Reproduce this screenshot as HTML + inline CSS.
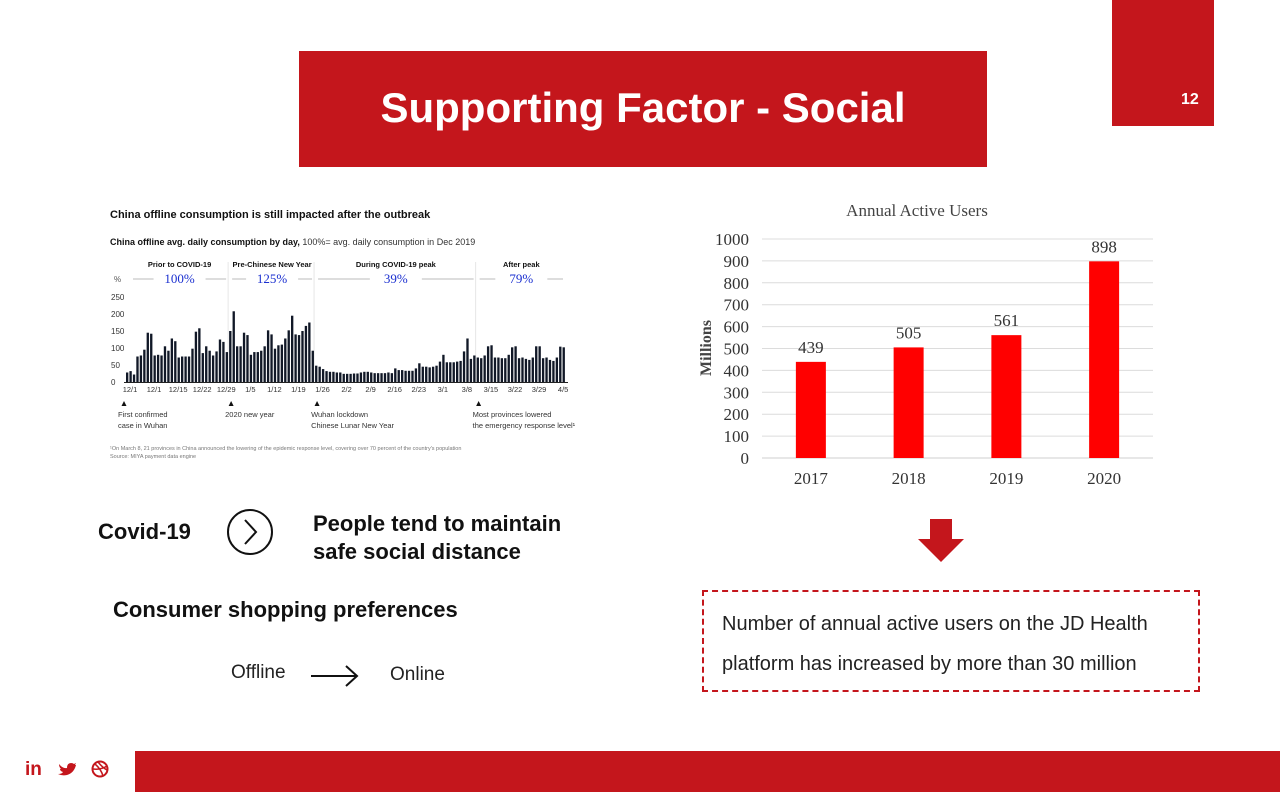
<!DOCTYPE html>
<html><head><meta charset="utf-8">
<style>
body{margin:0;width:1280px;height:792px;position:relative;background:#fff;font-family:"Liberation Sans",sans-serif;overflow:hidden}
.abs{position:absolute;white-space:nowrap}
.b{font-weight:bold;color:#111}
</style></head><body>
<div class="abs" style="left:299px;top:51px;width:688px;height:116px;background:#c4161c"></div>
<div class="abs" style="left:299px;top:84px;width:688px;text-align:center;color:#fff;font-weight:bold;font-size:42px;">Supporting Factor - Social</div>
<div class="abs" style="left:1112px;top:0;width:102px;height:126px;background:#c4161c"></div>
<div class="abs" style="left:1181px;top:91px;color:#fff;font-weight:bold;font-size:16px">12</div>
<div class="abs" style="left:135px;top:751px;width:1145px;height:41px;background:#c4161c"></div>
<div class="abs" style="left:25px;top:759px;color:#c4161c;font-weight:bold;font-size:19px">in</div>
<svg class="abs" style="left:58px;top:761px" width="18" height="16" viewBox="0 0 18 16"><path d="M1 3 Q5 8 9 7 Q9 2 13 2 Q15 2 16 3 L18 2 L17 4 L18 4 Q16 12 9 14 Q4 15 0 13 Q4 13 5 11 Q2 10 2 8 Q3 8 3 8 Q1 6 1 3Z" fill="#c4161c"/></svg>
<svg class="abs" style="left:91px;top:760px" width="18" height="18"><circle cx="9" cy="9" r="7.5" fill="none" stroke="#c4161c" stroke-width="2"/><path d="M4 4 Q10 9 12 16 M2 9 Q10 10 16 6 M7 2 Q12 8 16 10" fill="none" stroke="#c4161c" stroke-width="1.5"/></svg>

<div class="abs b" style="left:98px;top:519px;font-size:22px">Covid-19</div>
<svg class="abs" style="left:226px;top:508px" width="48" height="48"><circle cx="24" cy="24" r="22" fill="none" stroke="#111" stroke-width="2"/><path d="M19 12 L30 24 L19 36" fill="none" stroke="#111" stroke-width="2"/></svg>
<div class="abs b" style="left:313px;top:510px;font-size:22px;line-height:28px">People tend to maintain<br>safe social distance</div>
<div class="abs b" style="left:113px;top:597px;font-size:22px">Consumer shopping preferences</div>
<div class="abs" style="left:231px;top:662px;font-size:19px;color:#222">Offline</div>
<svg class="abs" style="left:310px;top:664px" width="50" height="24"><path d="M1 12 H46 M36 2 L47 12 L36 22" fill="none" stroke="#111" stroke-width="2"/></svg>
<div class="abs" style="left:390px;top:664px;font-size:19px;color:#222">Online</div>

<svg class="abs" style="left:916px;top:519px" width="50" height="44"><path d="M14 0 H36 V20 H48 L25 43 L2 20 H14Z" fill="#c4161c"/></svg>
<div class="abs" style="left:702px;top:590px;width:494px;height:98px;border:2px dashed #c4161c"></div>
<div class="abs" style="left:722px;top:604px;font-size:20px;line-height:40px;color:#222">Number of annual active users on the JD Health<br>platform has increased by more than 30 million</div>

<svg id="left" class="abs" style="left:0;top:0" width="640" height="470"></svg>
<svg id="right" class="abs" style="left:640px;top:0" width="640" height="500"></svg>

<script>
const dailyValues=[28,32,22,75,78,95,145,142,78,80,78,105,92,128,120,72,75,75,75,98,148,158,85,105,92,78,90,125,118,88,
150,208,105,105,145,138,80,88,88,92,105,152,140,98,108,110,128,152,195,140,138,150,165,175,92,
48,45,38,32,30,30,28,28,24,24,24,25,25,28,30,30,28,26,26,26,26,28,26,40,35,35,33,33,33,40,55,45,45,43,45,48,60,80,58,58,58,60,62,90,128,68,78,
72,70,78,105,108,72,72,70,70,80,102,105,70,72,68,65,72,105,105,70,72,65,62,72,104,102];
const dateLabels=["12/1","12/1","12/15","12/22","12/29","1/5","1/12","1/19","1/26","2/2","2/9","2/16","2/23","3/1","3/8","3/15","3/22","3/29","4/5"];
const yTicksL=[0,50,100,150,200,250];
const periods=["Prior to COVID-19","Pre-Chinese New Year","During COVID-19 peak","After peak"];
const periodPct=["100%","125%","39%","79%"];

const years=["2017","2018","2019","2020"];
const users=[439,505,561,898];
const yTicksR=[0,100,200,300,400,500,600,700,800,900,1000];

const NS="http://www.w3.org/2000/svg";
function mk(svg,tag,attrs,text){const e=document.createElementNS(NS,tag);for(const k in attrs)e.setAttribute(k,attrs[k]);if(text!==undefined)e.textContent=text;svg.appendChild(e);return e;}

// left chart
const L=document.getElementById('left');
const x0=126,step=440/dailyValues.length;
const xL=i=>x0+i*step, yL=v=>382-v*0.34;
let t;
t=mk(L,'text',{x:110,y:218,'font-size':11,'font-weight':'bold',fill:'#111'},'China offline consumption is still impacted after the outbreak');

t=mk(L,'text',{x:110,y:245,'font-size':9,fill:'#333'});

t.innerHTML='<tspan font-weight="bold" fill="#111">China offline avg. daily consumption by day,</tspan> 100%= avg. daily consumption in Dec 2019';
const bounds=[0,30,55,102,128];
mk(L,'text',{x:114,y:282,'font-size':8,fill:'#555'},'%');
for(let p=0;p<4;p++){
  const a=xL(bounds[p])+(p?0:4),b=xL(bounds[p+1]);
  const c=(a+b)/2;
  t=mk(L,'text',{x:c,y:267,'font-size':7.5,'font-weight':'bold','text-anchor':'middle',fill:'#111'},periods[p]);
  
  const ln=mk(L,'line',{x1:a+3,x2:b-3,y1:279,y2:279,stroke:'#bbb','stroke-width':1});
  
  mk(L,'rect',{x:c-26,y:270,width:52,height:14,fill:'#fff'});
  t=mk(L,'text',{x:c,y:283,'font-size':13,'font-family':'Liberation Serif,serif','text-anchor':'middle',fill:'#1a2fd0'},periodPct[p]);
  
  if(p>0){const v=mk(L,'line',{x1:xL(bounds[p])-1,x2:xL(bounds[p])-1,y1:262,y2:382,stroke:'#e6e6e6'});}
}
yTicksL.forEach(v=>{t=mk(L,'text',{x:111,y:yL(v)+3,'font-size':8,fill:'#333'},v);});
dailyValues.forEach((v,i)=>{const r=mk(L,'rect',{x:xL(i),y:yL(v),width:step*0.68,height:v*0.34,fill:'#111827'});
});
mk(L,'line',{x1:124,x2:568,y1:382.5,y2:382.5,stroke:'#222','stroke-width':1});
dateLabels.forEach((d,k)=>{t=mk(L,'text',{x:xL(k*7)+4,y:392,'font-size':7.5,'text-anchor':'middle',fill:'#333'},d);});
const notes=[[0,"First confirmed","case in Wuhan"],[30,"2020 new year",""],[55,"Wuhan lockdown","Chinese Lunar New Year"],[102,"Most provinces lowered","the emergency response level¹"]];
notes.forEach(n=>{const xx=xL(n[0])+(n[0]?0:-4);
  mk(L,'path',{d:`M${xx+2} 401 l-2.5 5 h5z`,fill:'#111'});
  t=mk(L,'text',{x:xx-4,y:417,'font-size':7.5,fill:'#333'},n[1]);
  if(n[2]){t=mk(L,'text',{x:xx-4,y:428,'font-size':7.5,fill:'#333'},n[2]);}
});
t=mk(L,'text',{x:110,y:450,'font-size':5.5,fill:'#777'},"¹On March 8, 21 provinces in China announced the lowering of the epidemic response level, covering over 70 percent of the country's population");

t=mk(L,'text',{x:110,y:458,'font-size':5.5,fill:'#777'},"Source: MIYA payment data engine");


// right chart (offset 640)
const R=document.getElementById('right');
const gx0=762-640,gx1=1153-640,band=(gx1-gx0)/years.length;
const yR=v=>458-v*0.219;
t=mk(R,'text',{x:917-640,y:216,'font-size':17,'font-family':'Liberation Serif,serif','text-anchor':'middle',fill:'#444'},'Annual Active Users');

yTicksR.forEach(v=>{
  const g=mk(R,'line',{x1:gx0,x2:gx1,y1:yR(v),y2:yR(v),stroke:v?'#dcdcdc':'#cfcfcf','stroke-width':1});
  
  t=mk(R,'text',{x:749-640,y:yR(v)+6,'font-size':17,'font-family':'Liberation Serif,serif','text-anchor':'end',fill:'#333'},v);
  
});
t=mk(R,'text',{x:0,y:0,'font-size':16,'font-weight':'bold','font-family':'Liberation Serif,serif','text-anchor':'middle',fill:'#444',transform:`translate(${711-640},348) rotate(-90)`},'Millions');

users.forEach((v,i)=>{
  const cx=gx0+band*(i+0.5);
  const r=mk(R,'rect',{x:cx-15,y:yR(v),width:30,height:v*0.219,fill:'#ff0000'});
  
  t=mk(R,'text',{x:cx,y:yR(v)-9,'font-size':17,'font-family':'Liberation Serif,serif','text-anchor':'middle',fill:'#333'},v);
  
  t=mk(R,'text',{x:cx,y:484,'font-size':17,'font-family':'Liberation Serif,serif','text-anchor':'middle',fill:'#333'},years[i]);
  
});
</script>
</body></html>
